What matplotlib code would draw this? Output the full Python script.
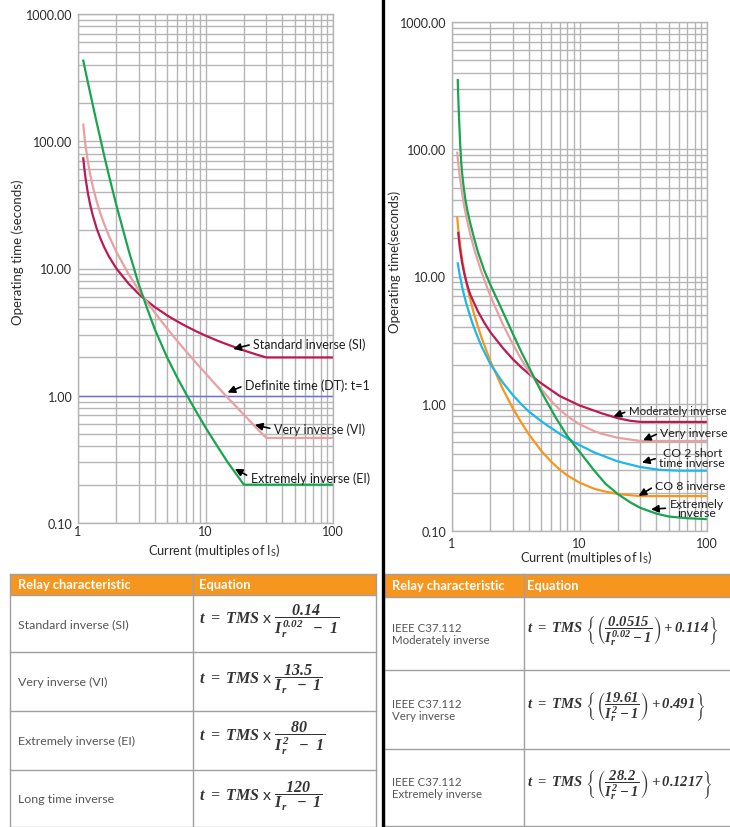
import numpy as np
import matplotlib
matplotlib.use('Agg')
import matplotlib.pyplot as plt
from matplotlib.patches import Rectangle
from matplotlib.ticker import LogLocator, NullFormatter

plt.rcParams['font.family'] = ['Lato', 'DejaVu Sans']
plt.rcParams['mathtext.fontset'] = 'custom'
plt.rcParams['mathtext.rm'] = 'Liberation Serif:italic:bold'
plt.rcParams['mathtext.it'] = 'Liberation Serif:italic:bold'
plt.rcParams['mathtext.fallback'] = 'stix'

W, H = 730, 828

# IEC curves (left chart): operating time (s) vs multiples of Is
iec_x = [1.1, 1.12, 1.15, 1.2, 1.25, 1.3, 1.4, 1.5, 1.6, 1.75, 2, 2.5, 3, 3.5, 4, 5, 6, 7,
	8.5, 10, 12.5, 15, 20, 25, 30, 50, 100]
si_t = [73.4, 61.7, 50.0, 38.3, 31.3, 26.6, 20.7, 17.2, 14.8, 12.4, 10.0, 7.57, 6.30, 5.52,
	4.98, 4.28, 3.84, 3.53, 3.20, 2.97, 2.70, 2.52, 2.27, 2.11, 2.0, 2.0, 2.0]
vi_t = [135, 112.5, 90, 67.5, 54, 45, 33.8, 27, 22.5, 18, 13.5, 9.0, 6.75, 5.4, 4.5, 3.38,
	2.7, 2.25, 1.8, 1.5, 1.17, 0.96, 0.71, 0.56, 0.466, 0.466, 0.466]
ei_t = [430, 394, 348, 285, 236, 197, 141, 104, 78, 53.6, 31.4, 13.8, 7.46, 4.8, 3.34, 2.0,
	1.39, 1.045, 0.744, 0.564, 0.395, 0.298, 0.2, 0.2, 0.2, 0.2, 0.2]
dt_x = [1, 100]
dt_t = [1.0, 1.0]

# IEEE / CO curves (right chart)
mi_x = [1.12, 1.15, 1.2, 1.25, 1.3, 1.35, 1.4, 1.5, 1.6, 1.8, 2, 2.5, 3, 3.5, 4, 5, 7, 10,
	15, 20, 25, 30, 100]
mi_t = [22, 17, 12.8, 10.5, 9.0, 7.9, 7.1, 6.1, 5.3, 4.3, 3.65, 2.75, 2.24, 1.93, 1.72,
	1.45, 1.15, 0.97, 0.84, 0.77, 0.735, 0.72, 0.72]
vi2_x = [1.1, 1.12, 1.15, 1.2, 1.25, 1.3, 1.4, 1.5, 1.7, 2, 2.5, 3, 3.5, 4, 5, 6, 7, 8, 10,
	13, 15, 20, 30, 100]
vi2_t = [93.9, 77.6, 61.3, 45.1, 35.4, 28.9, 20.9, 16.2, 10.9, 7.03, 4.23, 2.94, 2.23, 1.8,
	1.31, 1.05, 0.9, 0.8, 0.69, 0.61, 0.58, 0.54, 0.51, 0.51]
co2_x = [1.11, 1.15, 1.2, 1.25, 1.3, 1.4, 1.5, 1.7, 2, 2.5, 3, 3.5, 4, 5, 7, 9, 13, 20, 30,
	43, 60, 100]
co2_t = [12.7, 10.3, 8.3, 7.0, 6.05, 4.74, 3.88, 2.84, 2.05, 1.47, 1.17, 0.99, 0.87, 0.73,
	0.58, 0.5, 0.415, 0.352, 0.318, 0.302, 0.298, 0.298]
co8_x = [1.1, 1.12, 1.15, 1.2, 1.25, 1.3, 1.4, 1.5, 1.7, 2, 2.5, 3, 3.5, 4, 5, 6, 7, 8, 10,
	13, 15, 20, 30, 100]
co8_t = [29, 23.6, 18.6, 13.7, 10.8, 8.8, 6.38, 4.94, 3.33, 2.16, 1.31, 0.92, 0.71, 0.577,
	0.428, 0.35, 0.304, 0.274, 0.24, 0.215, 0.207, 0.195, 0.188, 0.188]
ei2_x = [1.11, 1.12, 1.13, 1.145, 1.16, 1.18, 1.2, 1.23, 1.27, 1.32, 1.4, 1.5, 1.6, 1.8, 2,
	2.4, 3, 3.5, 4, 5, 6.5, 8, 10, 13, 16, 20, 25, 30, 40, 50, 70, 100]
ei2_t = [350, 255, 200, 145, 108, 80, 65, 52, 41, 33, 25.5, 19.5, 15.5, 11.0, 8.6, 5.8, 3.55,
	2.55, 1.95, 1.25, 0.78, 0.56, 0.42, 0.30, 0.235, 0.195, 0.168, 0.152, 0.137, 0.13,
	0.126, 0.124]

y_ticks = [0.1, 1, 10, 100, 1000]
y_labels = ['0.10', '1.00', '10.00', '100.00', '1000.00']
x_ticks = [1, 10, 100]
x_labels = ['1', '10', '100']

# labels: text, point on curve (data), text offset (points), font size
iec_notes = [
	('Standard inverse (SI)', (16.5, 2.33), (14.4, 3.6), 9),
	('Definite time (DT): t=1', (14.9, 1.06), (12.5, 5.3), 9),
	('Very inverse (VI)', (24.4, 0.59), (13.7, -3.1), 9),
	('Extremely inverse (EI)', (17.0, 0.266), (11.3, -6), 9),
]
ieee_notes = [
	('Moderately inverse', (18.5, 0.795), (11, 4), 8.3),
	('Very inverse', (31.5, 0.517), (12.5, 5.5), 8.8),
	('CO 2 short\ntime inverse', (30.9, 0.345), (12.5, 3.6), 8.8),
	('CO 8 inverse', (29.1, 0.189), (12, 7.2), 8.8),
	('Extremely\ninverse', (36.4, 0.148), (13.4, 1), 8.8),
]

iec_names = ['Standard inverse (SI)', 'Very inverse (VI)', 'Extremely inverse (EI)', 'Long time inverse']
iec_eqs = [
	r'$t\ =\ TMS$ x $\dfrac{0.14}{I_r^{0.02}\ \ -\ 1}$',
	r'$t\ =\ TMS$ x $\dfrac{13.5}{I_r\ \ -\ 1}$',
	r'$t\ =\ TMS$ x $\dfrac{80}{I_r^{2}\ \ -\ 1}$',
	r'$t\ =\ TMS$ x $\dfrac{120}{I_r\ \ -\ 1}$',
]
ieee_names = ['IEEE C37.112\nModerately inverse', 'IEEE C37.112\nVery inverse', 'IEEE C37.112\nExtremely inverse']
ieee_eqs = [
	r'$t\ =\ TMS\ \left\{\left(\dfrac{0.0515}{I_r^{0.02}-1}\right)+0.114\right\}$',
	r'$t\ =\ TMS\ \left\{\left(\dfrac{19.61}{I_r^{2}-1}\right)+0.491\right\}$',
	r'$t\ =\ TMS\ \left\{\left(\dfrac{28.2}{I_r^{2}-1}\right)+0.1217\right\}$',
]

CRIMSON = '#bc1a52'
PINK = '#e9a0a3'
GREEN = '#19a54f'
CYAN = '#1fb6ea'
ORANGE = '#f7961e'
DTBLUE = '#6f6fd8'
GRID = '#b5b5b5'
TEXT = '#2b2b2b'
LW = 1.6


def px_axes(fig, x0, y0, x1, y1):
	return fig.add_axes([x0 / W, 1 - y1 / H, (x1 - x0) / W, (y1 - y0) / H])


def setup_log_axes(ax, xpad):
	ax.set_xscale('log')
	ax.set_yscale('log')
	ax.set_xlim(1, 100)
	ax.set_ylim(0.1, 1000)
	ax.set_xticks(x_ticks)
	ax.set_xticklabels(x_labels)
	ax.set_yticks(y_ticks)
	ax.set_yticklabels(y_labels)
	ax.xaxis.set_minor_locator(LogLocator(base=10, subs=np.arange(2, 10)))
	ax.yaxis.set_minor_locator(LogLocator(base=10, subs=np.arange(2, 10)))
	ax.xaxis.set_minor_formatter(NullFormatter())
	ax.yaxis.set_minor_formatter(NullFormatter())
	ax.grid(which='both', color=GRID, lw=1.0)
	ax.set_axisbelow(True)
	ax.tick_params(which='both', length=0, labelsize=9, labelcolor=TEXT)
	ax.tick_params(axis='x', pad=xpad)
	ax.tick_params(axis='y', pad=4)
	for s in ax.spines.values():
		s.set_color(GRID)
		s.set_linewidth(1.0)


def add_notes(ax, notes):
	for text, xy, off, size in notes:
		ax.annotate(text, xy=xy, xytext=off, textcoords='offset points',
			ha='left', va='center', multialignment='center', linespacing=0.85,
			fontsize=size, color='#1e1e1e',
			arrowprops=dict(arrowstyle='-|>', color='black', lw=1.2,
				mutation_scale=11, shrinkA=1, shrinkB=0, relpos=(0, 0.5)))


def draw_left_chart(fig):
	ax = px_axes(fig, 78, 15, 333, 524)
	setup_log_axes(ax, 1.5)
	ax.plot(dt_x, dt_t, color=DTBLUE, lw=1.0)
	ax.plot(iec_x, si_t, color=CRIMSON, lw=LW)
	ax.plot(iec_x, vi_t, color=PINK, lw=LW)
	ax.plot(iec_x, ei_t, color=GREEN, lw=LW)
	add_notes(ax, iec_notes)


def draw_right_chart(fig):
	ax = px_axes(fig, 452, 23, 707, 532)
	setup_log_axes(ax, 4)
	ax.plot(co8_x, co8_t, color=ORANGE, lw=LW)
	ax.plot(co2_x, co2_t, color=CYAN, lw=LW)
	ax.plot(mi_x, mi_t, color=CRIMSON, lw=LW)
	ax.plot(vi2_x, vi2_t, color=PINK, lw=LW)
	ax.plot(ei2_x, ei2_t, color=GREEN, lw=LW)
	add_notes(ax, ieee_notes)


def draw_table(bg, x0, x1, xc, rows, names, eqs, name_size, eq_x, eq_size):
	bg.add_patch(Rectangle((x0, rows[0]), x1 - x0, rows[1] - rows[0], fc=ORANGE, ec='none'))
	for y in rows:
		bg.plot([x0, x1], [y, y], color='#a0a0a0', lw=1.0)
	for x in (x0, xc, x1):
		bg.plot([x, x], [rows[0], rows[-1]], color='#a0a0a0', lw=1.0)
	hy = (rows[0] + rows[1]) / 2
	bg.text(x0 + 8, hy, 'Relay characteristic', color='white', fontsize=9.3,
		fontweight='bold', ha='left', va='center')
	bg.text(eq_x, hy, 'Equation', color='white', fontsize=9.3, fontweight='bold',
		ha='left', va='center')
	for i in range(len(names)):
		yc = (rows[i + 1] + rows[i + 2]) / 2
		bg.text(x0 + 8, yc, names[i], color='#555555', fontsize=name_size,
			ha='left', va='center', linespacing=1.1)
		bg.text(eq_x, yc - 3, eqs[i], color='#333333', fontsize=eq_size,
			ha='left', va='center')


def main():
	fig = plt.figure(figsize=(W / 100, H / 100), dpi=100)
	bg = fig.add_axes([0, 0, 1, 1])
	bg.set_xlim(0, W)
	bg.set_ylim(H, 0)
	bg.axis('off')

	draw_left_chart(fig)
	draw_right_chart(fig)

	# axis titles
	bg.text(18, 252, 'Operating time (seconds)', rotation=90, fontsize=9.5, color=TEXT,
		ha='center', va='center')
	bg.text(214, 551, 'Current (multiples of I$_\\mathregular{S}$)', fontsize=9.2, color=TEXT,
		ha='center', va='center')
	bg.text(395, 262, 'Operating time(seconds)', rotation=90, fontsize=9.5, color=TEXT,
		ha='center', va='center')
	bg.text(586, 558, 'Current (multiples of I$_\\mathregular{S}$)', fontsize=9.2, color=TEXT,
		ha='center', va='center')

	draw_table(bg, 10, 376, 193, [575, 596, 653, 712, 771, 828], iec_names, iec_eqs, 8.9, 199, 11.5)
	draw_table(bg, 384, 732, 524, [575, 598, 671, 750, 827], ieee_names, ieee_eqs, 8.3, 527, 10.5)

	# black divider between the two halves
	bg.plot([383, 383], [0, H], color='black', lw=2.4)

	fig.savefig('out.png', dpi=100)


if __name__ == "__main__":
	main()
